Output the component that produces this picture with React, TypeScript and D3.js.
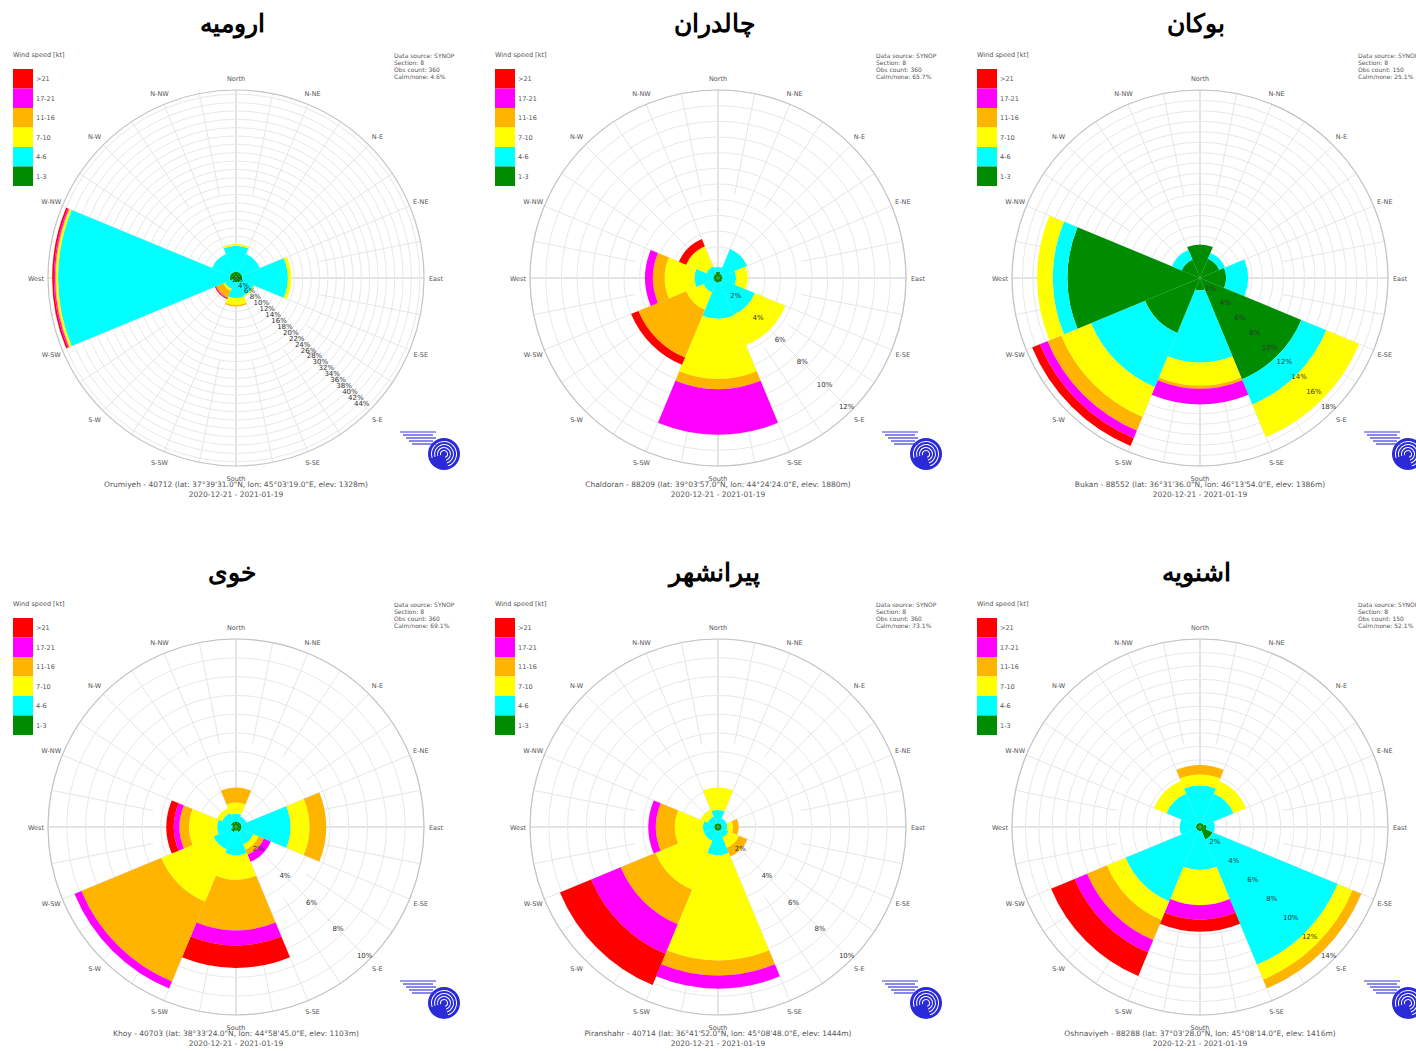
import React from 'react';
import * as d3 from 'd3';

// Speed classes from the centre outwards (knots)
const speedClasses = ['1-3', '4-6', '7-10', '11-16', '17-21', '>21'];
const speedColors = ['#008c00', '#00ffff', '#ffff00', '#ffb400', '#ff00ff', '#ff0000'];

// Eight sectors, clockwise from north
const sectorNames = ['N', 'NE', 'E', 'SE', 'S', 'SW', 'W', 'NW'];
const compassLabels = ['North', 'N-NE', 'N-E', 'E-NE', 'East', 'E-SE', 'S-E', 'S-SE',
  'South', 'S-SW', 'S-W', 'W-SW', 'West', 'W-NW', 'N-W', 'N-NW'];

// Frequency (%) of each speed class per sector, rows follow sectorNames
const orumiyehRose = [
  [1.5, 6.2, 0.4, 0, 0, 0],
  [1.5, 4.7, 0, 0, 0, 0],
  [1.5, 10.9, 0.8, 0, 0, 0],
  [1.2, 3.4, 0.3, 0, 0, 0],
  [1.0, 3.8, 1.7, 0.3, 0, 0],
  [0.8, 2.0, 0.5, 1.8, 0.2, 0.2],
  [1.5, 41.1, 0.5, 0.2, 0.3, 0.4],
  [1.5, 4.7, 0, 0, 0, 0],
];
const chaldoranRose = [
  [0.4, 0.3, 0, 0, 0, 0],
  [0.3, 1.7, 0, 0, 0, 0],
  [0.3, 0.85, 0.75, 0, 0, 0],
  [0.3, 2.25, 2.1, 0, 0, 0],
  [0.3, 2.3, 3.85, 0.65, 2.9, 0],
  [0.3, 0.7, 1.2, 3.3, 0, 0.5],
  [0.3, 1.2, 1.9, 0.75, 0.5, 0],
  [0.3, 0.5, 1.4, 0, 0, 0.5],
];
const bukanRose = [
  [3.2, 0, 0, 0, 0, 0],
  [2.0, 0.6, 0, 0, 0, 0],
  [2.5, 2.1, 0, 0, 0, 0],
  [10.5, 2.6, 3.4, 0, 0, 0],
  [1.2, 6.9, 2.2, 0.3, 1.5, 0],
  [5.7, 5.6, 3.1, 1.4, 0.8, 0.8],
  [12.7, 1.4, 1.5, 0, 0, 0],
  [1.9, 1.0, 0, 0, 0, 0],
];
const khoyRose = [
  [0.3, 0.4, 0.6, 0.8, 0, 0],
  [0.3, 0.3, 0, 0, 0, 0],
  [0.3, 2.6, 1.0, 0.9, 0, 0],
  [0.3, 0.7, 0.3, 0.3, 0.4, 0],
  [0.2, 1.3, 1.3, 2.7, 0.8, 1.2],
  [0.3, 1.0, 3.0, 4.6, 0.4, 0],
  [0.2, 0.8, 1.5, 0.5, 0.3, 0.4],
  [0.3, 0.5, 0.3, 0, 0, 0],
];
const piranshahrRose = [
  [0.2, 0.7, 1.2, 0, 0, 0],
  [0.2, 0.3, 0, 0, 0, 0],
  [0.2, 0.3, 0.3, 0.3, 0, 0],
  [0.2, 0.4, 0.6, 0.5, 0, 0],
  [0.2, 1.3, 5.6, 0.8, 0.7, 0],
  [0.2, 0.6, 2.8, 2.0, 1.7, 1.8],
  [0.2, 0.6, 1.5, 1.0, 0.4, 0],
  [0.2, 0.4, 0.4, 0, 0, 0],
];
const oshnaviyehRose = [
  [0.3, 2.8, 0.8, 0.7, 0, 0],
  [0.3, 2.4, 1.0, 0, 0, 0],
  [0.5, 0.6, 0, 0, 0, 0],
  [1.0, 10.1, 1.2, 0.7, 0, 0],
  [0.3, 2.9, 2.6, 0, 1.1, 0.9],
  [0.3, 5.7, 1.5, 1.6, 1.0, 1.9],
  [0.3, 1.2, 0, 0, 0, 0],
  [0.3, 2.4, 1.0, 0, 0, 0],
];

// Station headings and captions
const stationTitles = ['ارومیه', 'چالدران', 'بوکان', 'خوی', 'پیرانشهر', 'اشنویه'];
const stationCaptions = [
  'Orumiyeh - 40712 (lat: 37°39\'31.0"N, lon: 45°03\'19.0"E, elev: 1328m)',
  'Chaldoran - 88209 (lat: 39°03\'57.0"N, lon: 44°24\'24.0"E, elev: 1880m)',
  'Bukan - 88552 (lat: 36°31\'36.0"N, lon: 46°13\'54.0"E, elev: 1386m)',
  'Khoy - 40703 (lat: 38°33\'24.0"N, lon: 44°58\'45.0"E, elev: 1103m)',
  'Piranshahr - 40714 (lat: 36°41\'52.0"N, lon: 45°08\'48.0"E, elev: 1444m)',
  'Oshnaviyeh - 88288 (lat: 37°03\'28.0"N, lon: 45°08\'14.0"E, elev: 1416m)',
];
const periodLabel = '2020-12-21 - 2021-01-19';
const obsCounts = [360, 360, 150, 360, 360, 150];
const calmShares = ['4.6%', '65.7%', '25.1%', '69.1%', '73.1%', '52.1%'];
// Radial axis: maximum, ring spacing and label spacing (%)
const axisMax = [45, 12, 18, 10, 10, 14];
const ringStep = [2, 1, 1, 1, 1, 1];
const labelStep = [2, 2, 2, 2, 2, 2];

const roses = [orumiyehRose, chaldoranRose, bukanRose, khoyRose, piranshahrRose, oshnaviyehRose];

const W = 1416;
const H = 1051;
const R = 188;
const colX = [236, 718, 1200];
const rowY = [278, 827];
const small = "'DejaVu Sans', Verdana, sans-serif";

function Logo({ x, y }: { x: number; y: number }) {
  const rings = [13, 10, 7, 4];
  return (
    <g transform={`translate(${x},${y})`}>
      <circle r={16} fill="#2a2ad8" />
      {rings.map((r, i) => (
        <path key={i}
          d={d3.arc()({ innerRadius: r - 1, outerRadius: r, startAngle: -Math.PI * 0.6, endAngle: Math.PI * 0.9 }) || ''}
          fill="#ffffff" />
      ))}
      {[0, 1, 2, 3, 4].map((i) => (
        <line key={i} x1={-44 + i * 3} x2={-8 - (i % 2) * 3} y1={-22 + i * 3} y2={-22 + i * 3}
          stroke="#3a3ad8" strokeWidth={1.2} />
      ))}
    </g>
  );
}

function Rose({ idx }: { idx: number }) {
  const cx = colX[idx % 3];
  const cy = rowY[Math.floor(idx / 3)];
  const data = roses[idx];
  const max = axisMax[idx];
  const r = d3.scaleLinear().domain([0, max]).range([0, R]);
  const half = Math.PI / 8;

  const rings = d3.range(ringStep[idx], max + 1e-6, ringStep[idx]);
  const tickVals = d3.range(labelStep[idx], max + 1e-6, labelStep[idx]);

  const bands: { d: string; fill: string }[] = [];
  data.forEach((row, s) => {
    const mid = (s * Math.PI) / 4;
    let acc = 0;
    row.forEach((v, c) => {
      if (v <= 0) return;
      const a = d3.arc()({
        innerRadius: r(acc), outerRadius: r(acc + v),
        startAngle: mid - half, endAngle: mid + half,
      });
      acc += v;
      bands.push({ d: a || '', fill: speedColors[c] });
    });
  });

  const legendX = cx - 223;
  const legendY = cy - 221;

  return (
    <g>
      <text x={cx - 4} y={cy - 246} textAnchor="middle" fontSize={25} fontWeight="bold"
        fontFamily="'Times New Roman', 'Liberation Serif', 'DejaVu Serif', serif" fill="#000">
        {stationTitles[idx]}
      </text>
      <g transform={`translate(${cx},${cy})`}>
        {d3.range(32).map((i) => {
          const ang = (i * Math.PI) / 16;
          const r0 = i % 2 === 0 ? 0 : R * 0.45;
          return (
            <line key={i} x1={r0 * Math.sin(ang)} y1={-r0 * Math.cos(ang)}
              x2={R * Math.sin(ang)} y2={-R * Math.cos(ang)}
              stroke={i % 8 === 0 ? '#c8c8c8' : '#e6e6e6'} strokeWidth={1} />
          );
        })}
        {rings.map((v) => (
          <circle key={v} r={r(v)} fill="none" stroke="#e8e8e8" strokeWidth={1} />
        ))}
        <circle r={R} fill="none" stroke="#c4c4c4" strokeWidth={1.2} />
        {bands.map((b, i) => <path key={i} d={b.d} fill={b.fill} />)}
        {tickVals.map((v) => {
          const rr = r(v) - 6;
          return (
            <text key={v} x={rr * Math.SQRT1_2} y={rr * Math.SQRT1_2 + 2} textAnchor="middle"
              fontSize={7} fontFamily={small} fill="#333">{`${v}%`}</text>
          );
        })}
        {compassLabels.map((lab, i) => {
          const ang = (i * Math.PI) / 8;
          const rr = R + 12;
          return (
            <text key={lab} x={rr * Math.sin(ang)} y={-rr * Math.cos(ang) + 2.5} textAnchor="middle"
              fontSize={6.5} fontFamily={small} fill="#555">{lab}</text>
          );
        })}
      </g>
      <text x={legendX} y={legendY} fontSize={6.5} fontFamily={small} fill="#555">Wind speed [kt]</text>
      {speedClasses.slice().reverse().map((lab, i) => (
        <g key={lab}>
          <rect x={legendX} y={legendY + 12 + i * 19.5} width={20} height={19.5}
            fill={speedColors[speedClasses.length - 1 - i]} />
          <text x={legendX + 23} y={legendY + 24 + i * 19.5} fontSize={6.5} fontFamily={small} fill="#555">{lab}</text>
        </g>
      ))}
      {['Data source: SYNOP', 'Section: 8', `Obs count: ${obsCounts[idx]}`, `Calm/none: ${calmShares[idx]}`].map((t, i) => (
        <text key={t} x={cx + 158} y={cy - 220 + i * 7} fontSize={6} fontFamily={small} fill="#555">{t}</text>
      ))}
      <text x={cx} y={cy + 209} textAnchor="middle" fontSize={7.5} fontFamily={small} fill="#555">{stationCaptions[idx]}</text>
      <text x={cx} y={cy + 219} textAnchor="middle" fontSize={7.5} fontFamily={small} fill="#555">{periodLabel}</text>
      <Logo x={cx + 208} y={cy + 176} />
    </g>
  );
}

export default function App() {
  return (
    <svg width={W} height={H} viewBox={`0 0 ${W} ${H}`}
      style={{ position: 'absolute', left: 0, top: 0, background: '#fff' }}>
      <rect width={W} height={H} fill="#fff" />
      {roses.map((_, i) => <Rose key={i} idx={i} />)}
    </svg>
  );
}
